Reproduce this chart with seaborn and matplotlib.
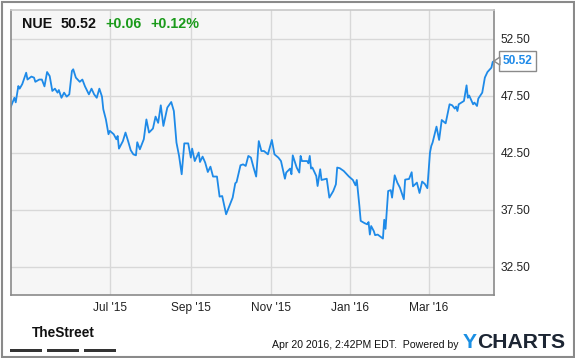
import matplotlib
matplotlib.use("Agg")
import matplotlib.pyplot as plt
import matplotlib.dates as mdates
from matplotlib.patches import Rectangle, Polygon
from matplotlib.transforms import IdentityTransform
import seaborn as sns
import pandas as pd

# ---------------- data ----------------
dates = [
    "2015-04-16", "2015-04-19", "2015-04-20", "2015-04-22", "2015-04-23", "2015-04-25",
    "2015-04-28", "2015-04-29", "2015-05-02", "2015-05-04", "2015-05-05", "2015-05-08",
    "2015-05-10", "2015-05-12", "2015-05-14", "2015-05-16", "2015-05-18", "2015-05-20",
    "2015-05-22", "2015-05-23", "2015-05-25", "2015-05-27", "2015-05-29", "2015-05-31",
    "2015-06-02", "2015-06-03", "2015-06-05", "2015-06-08", "2015-06-10", "2015-06-12",
    "2015-06-15", "2015-06-17", "2015-06-19", "2015-06-21", "2015-06-23", "2015-06-25",
    "2015-06-26", "2015-06-28", "2015-06-30", "2015-07-01", "2015-07-04", "2015-07-06",
    "2015-07-07", "2015-07-08", "2015-07-11", "2015-07-13", "2015-07-15", "2015-07-17",
    "2015-07-19", "2015-07-21", "2015-07-22", "2015-07-24", "2015-07-27", "2015-07-29",
    "2015-07-31", "2015-08-03", "2015-08-05", "2015-08-07", "2015-08-09", "2015-08-11",
    "2015-08-14", "2015-08-17", "2015-08-19", "2015-08-21", "2015-08-23", "2015-08-25",
    "2015-08-27", "2015-08-30", "2015-09-01", "2015-09-02", "2015-09-04", "2015-09-07",
    "2015-09-08", "2015-09-10", "2015-09-12", "2015-09-14", "2015-09-16", "2015-09-18",
    "2015-09-21", "2015-09-23", "2015-09-25", "2015-09-28", "2015-09-30", "2015-10-03",
    "2015-10-05", "2015-10-06", "2015-10-09", "2015-10-11", "2015-10-13", "2015-10-15",
    "2015-10-17", "2015-10-19", "2015-10-21", "2015-10-23", "2015-10-25", "2015-10-27",
    "2015-10-30", "2015-11-02", "2015-11-04", "2015-11-07", "2015-11-09", "2015-11-12",
    "2015-11-13", "2015-11-16", "2015-11-17", "2015-11-18", "2015-11-21", "2015-11-23",
    "2015-11-24", "2015-11-25", "2015-11-29", "2015-11-30", "2015-12-01", "2015-12-02",
    "2015-12-03", "2015-12-06", "2015-12-07", "2015-12-09", "2015-12-10", "2015-12-14",
    "2015-12-16", "2015-12-19", "2015-12-21", "2015-12-22", "2015-12-24", "2015-12-27",
    "2015-12-31", "2016-01-03", "2016-01-05", "2016-01-06", "2016-01-08", "2016-01-09",
    "2016-01-12", "2016-01-14", "2016-01-15", "2016-01-16", "2016-01-17", "2016-01-19",
    "2016-01-20", "2016-01-22", "2016-01-24", "2016-01-26", "2016-01-27", "2016-01-28",
    "2016-01-30", "2016-02-01", "2016-02-02", "2016-02-04", "2016-02-06", "2016-02-08",
    "2016-02-11", "2016-02-12", "2016-02-15", "2016-02-17", "2016-02-18", "2016-02-21",
    "2016-02-23", "2016-02-25", "2016-02-27", "2016-02-29", "2016-03-02", "2016-03-03",
    "2016-03-04", "2016-03-07", "2016-03-09", "2016-03-11", "2016-03-14", "2016-03-17",
    "2016-03-19", "2016-03-21", "2016-03-22", "2016-03-23", "2016-03-24", "2016-03-28",
    "2016-03-30", "2016-03-31", "2016-04-01", "2016-04-04", "2016-04-05", "2016-04-07",
    "2016-04-08", "2016-04-11", "2016-04-13", "2016-04-15", "2016-04-18", "2016-04-19",
    "2016-04-20",
]
prices = [
    46.44, 47.30, 46.90, 48.33, 48.10, 48.50,
    49.50, 48.90, 49.16, 49.07, 48.70, 48.90,
    48.90, 48.30, 49.56, 49.20, 47.90, 48.10,
    47.75, 47.98, 47.30, 47.75, 47.40, 47.60,
    49.65, 49.80, 49.07, 48.70, 48.90, 48.30,
    47.60, 48.10, 47.60, 47.30, 48.10, 47.40,
    46.30, 45.40, 44.10, 44.40, 44.10, 43.66,
    43.95, 42.84, 43.50, 44.25, 43.50, 42.70,
    42.34, 42.25, 43.40, 42.78, 43.66, 45.40,
    44.25, 44.60, 45.65, 45.10, 46.64, 44.83,
    46.44, 46.93, 46.14, 43.37, 42.20, 40.59,
    43.30, 43.30, 42.05, 42.84, 41.75, 42.50,
    41.67, 42.14, 41.61, 40.79, 41.26, 40.39,
    40.39, 38.63, 38.68, 37.08, 37.67, 38.54,
    39.80, 39.90, 41.38, 41.46, 41.32, 42.20,
    42.05, 41.18, 40.39, 43.50, 42.63, 42.63,
    42.34, 43.60, 42.34, 42.05, 41.75, 40.20,
    40.74, 41.09, 40.59, 42.25, 41.18, 40.74,
    42.20, 41.75, 41.75, 41.55, 42.20, 41.09,
    41.18, 40.44, 39.56, 41.03, 40.09, 40.20,
    38.54, 39.12, 39.71, 41.18, 41.12, 40.88,
    40.39, 40.09, 39.62, 40.09, 37.80, 36.50,
    36.30, 36.20, 36.40, 35.30, 36.05, 35.61,
    35.25, 35.30, 35.12, 34.95, 36.60, 35.80,
    39.12, 39.20, 38.54, 40.50, 39.86, 39.42,
    38.40, 40.12, 40.18, 40.77, 39.53, 39.86,
    38.95, 39.95, 39.75, 39.37, 42.49, 43.07,
    43.37, 44.77, 43.60, 45.35, 45.06, 46.73,
    46.64, 46.35, 46.53, 46.14, 46.73, 47.02,
    48.39, 47.30, 47.50, 46.73, 46.88, 46.58,
    47.23, 47.75, 49.07, 49.56, 49.94, 50.44,
    50.52,
]
ticker = "NUE"
last_price_text = "50.52"
change_text = "+0.06"
change_pct_text = "+0.12%"
y_ticks = [32.5, 37.5, 42.5, 47.5, 52.5]
x_tick_dates = ["2015-07-01", "2015-09-01", "2015-11-01", "2016-01-01", "2016-03-01"]
x_tick_labels = ["Jul '15", "Sep '15", "Nov '15", "Jan '16", "Mar '16"]
footer_text = "Apr 20 2016, 2:42PM EDT.  Powered by"

# ---------------- style ----------------
sns.set_style("white")
plt.rcParams['font.family'] = ['Liberation Sans', 'DejaVu Sans']

W, H = 575, 358
fig = plt.figure(figsize=(W / 100, H / 100), dpi=100)
fig.patch.set_facecolor("white")

ax = fig.add_axes([10.5 / W, 1 - 295 / H, (494 - 10.5) / W, 285 / H])
df = pd.DataFrame({"date": pd.to_datetime(dates), "price": prices})
sns.lineplot(data=df, x="date", y="price", ax=ax, color="#1e8ae8", linewidth=1.3)

ax.set_xlim(df["date"].min(), df["date"].max())
ax.set_ylim(30, 55)
ax.set_facecolor("#f6f6f6")
ax.yaxis.tick_right()
ax.set_yticks(y_ticks)
ax.set_yticklabels([f"{v:.2f}" for v in y_ticks])
ax.set_xticks(pd.to_datetime(x_tick_dates))
ax.set_xticklabels(x_tick_labels)
ax.tick_params(length=0, labelsize=8.6, colors="#222222")
ax.tick_params(axis="y", pad=5)
ax.tick_params(axis="x", pad=5)
ax.grid(True, color="#d8d8d8", linewidth=1)
ax.set_axisbelow(True)
ax.set_xlabel("")
ax.set_ylabel("")
for name, s in ax.spines.items():
    s.set_color("#8a8a8a")
    s.set_linewidth(1.2)
ax.spines["top"].set_color("#c8c8c8")

# header
hy = 1 - 23.5 / H
fig.text(22 / W, hy, ticker, fontsize=10.3, fontweight="bold", color="#111111", va="center")
fig.text(61 / W, hy, last_price_text, fontsize=10.3, fontweight="bold", color="#111111", va="center")
fig.text(105 / W, hy, change_text, fontsize=10.3, fontweight="bold", color="#1a9a1a", va="center")
fig.text(150 / W, hy, change_pct_text, fontsize=10.3, fontweight="bold", color="#1a9a1a", va="center")

# last value tag
last_x = mdates.date2num(df["date"].iloc[-1])
last_y = df["price"].iloc[-1]
ann = ax.annotate(last_price_text, xy=(last_x, last_y), xytext=(9, 0), textcoords="offset pixels",
                  fontsize=8.6, fontweight="bold", color="#1e8ae8", va="center", ha="left",
                  annotation_clip=False,
                  bbox=dict(boxstyle="square,pad=0.3", fc="white", ec="#8a8a8a", lw=1))
fig.canvas.draw()
px, py = ax.transData.transform((last_x, last_y))
bb = ann.get_bbox_patch().get_window_extent()
tri = Polygon([[px, py], [bb.x0 + 0.5, py + 4], [bb.x0 + 0.5, py - 4]], closed=True,
              fc="white", ec="#8a8a8a", lw=1, transform=IdentityTransform(), zorder=5)
fig.patches.append(tri)

# footer
fig.text(63 / W, 1 - 333 / H, "TheStreet", fontsize=9.8, fontweight="bold",
         family=["Liberation Sans Narrow", "Liberation Sans"], color="#111111",
         ha="center", va="center")
for x0, x1 in [(10, 42), (47, 79), (84, 116)]:
    fig.patches.append(Rectangle((x0 / W, 1 - 352 / H), (x1 - x0) / W, 3 / H,
                                 transform=fig.transFigure, fc="#333333", ec="none"))
fig.text(459 / W, 1 - 345 / H, footer_text, fontsize=7.6, color="#111111", ha="right", va="center")
ty = fig.text(463 / W, 1 - 342 / H, "Y", fontsize=15.2, fontweight="bold", color="#1a8fe3",
              va="center", ha="left")
fig.canvas.draw()
tb = ty.get_window_extent()
fig.text(tb.x1 / (W), 1 - 342 / H, "CHARTS", fontsize=15.2, fontweight="bold", color="#1c2533",
         va="center", ha="left")

# outer border
fig.patches.append(Rectangle((1.5 / W, 1.5 / H), (W - 3) / W, (H - 3) / H, transform=fig.transFigure,
                             fill=False, ec="#8a8a8a", lw=1.5))

fig.savefig("out.png", dpi=100)
